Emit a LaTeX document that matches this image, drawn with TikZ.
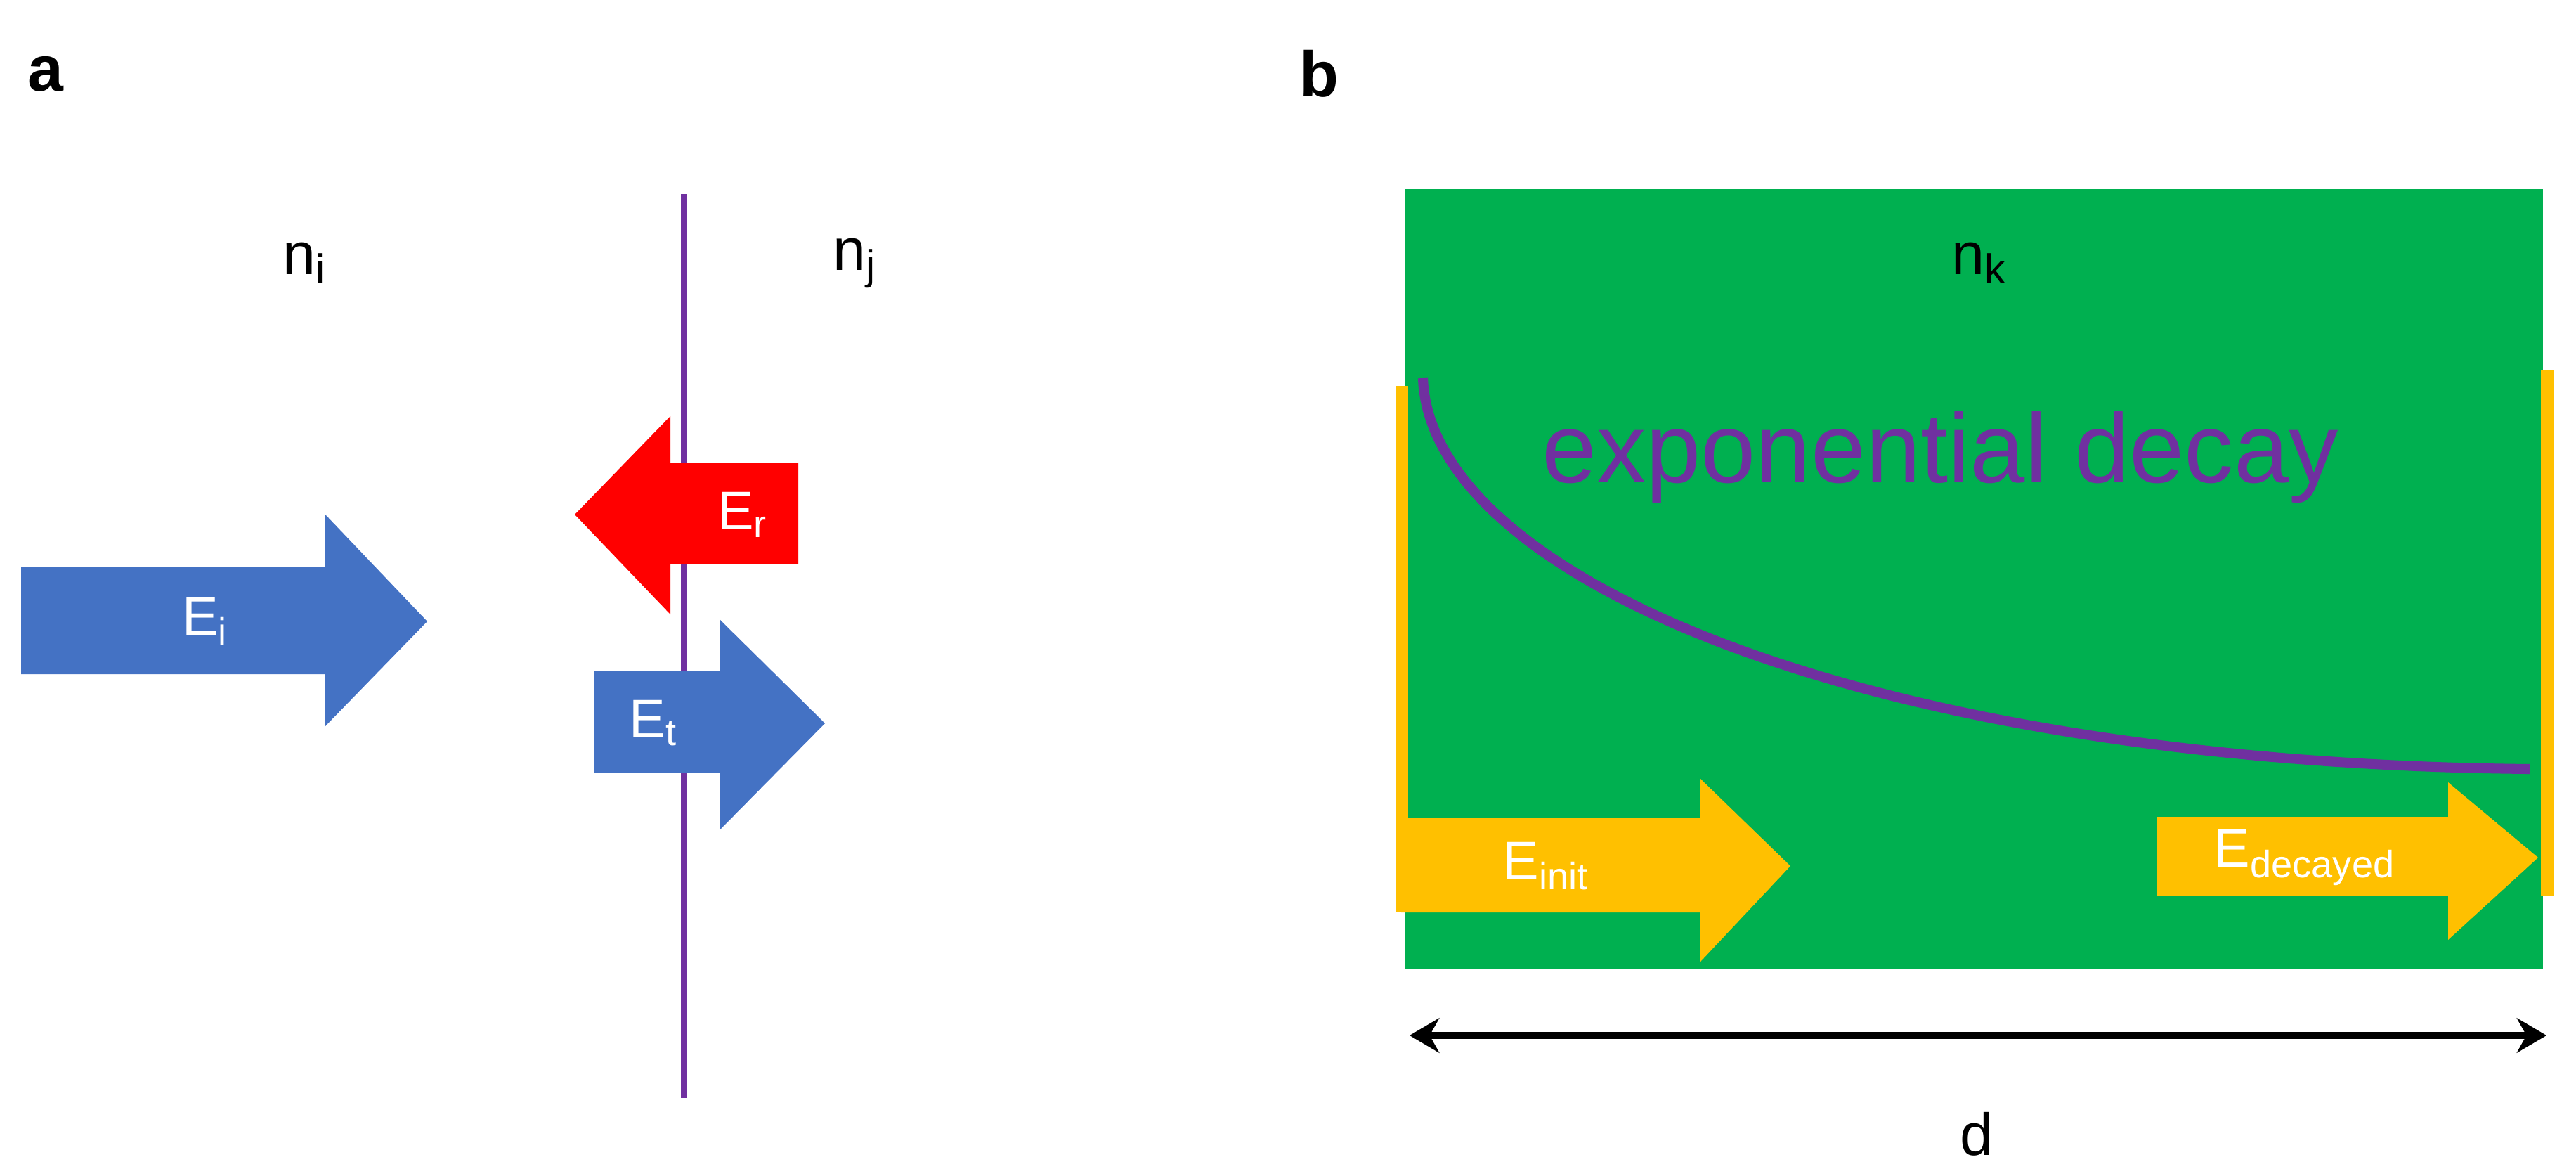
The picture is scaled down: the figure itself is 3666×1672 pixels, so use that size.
\documentclass[tikz,border=0pt]{standalone}
\usepackage{fontspec}
\setmainfont{Liberation Sans}
\usetikzlibrary{arrows.meta}
\definecolor{ablue}{HTML}{4472C4}
\definecolor{agreen}{HTML}{00B050}
\definecolor{ayellow}{HTML}{FFC000}
\definecolor{apurple}{HTML}{7030A0}
\begin{document}
\begin{tikzpicture}[x=0.01cm,y=-0.01cm,
  lab/.style={font=\fontsize{24}{28}\selectfont},
  elab/.style={text=white,font=\fontsize{22}{26}\selectfont},
  panel/.style={font=\bfseries\fontsize{26}{30}\selectfont}]
\useasboundingbox (0,0) rectangle (3666,1672);
% panel a
\node[panel] (pa) at (65,105) {a};
\node[lab] (ni) at (433,374) {n$_\mathrm{i}$};
\node[lab] (nj) at (1216,374) {n$_\mathrm{j}$};
\coordinate (lt) at (973,276);
\coordinate (lb) at (973,1562);
\draw[apurple,line width=2pt] (lt) -- (lb);
\fill[ablue] (30,807) -- (463,807) -- (463,732) -- (608,884) -- (463,1033) -- (463,959) -- (30,959) -- cycle;
\node[elab] (ei) at (292,884) {E$_\mathrm{i}$};
\fill[red] (1136,659) -- (954,659) -- (954,592) -- (818,732) -- (954,874) -- (954,802) -- (1136,802) -- cycle;
\node[elab] (er) at (1057,732) {E$_\mathrm{r}$};
\fill[ablue] (846,954) -- (1024,954) -- (1024,881) -- (1174,1029) -- (1024,1181) -- (1024,1099) -- (846,1099) -- cycle;
\node[elab] (et) at (930,1029) {E$_\mathrm{t}$};
% panel b
\node[panel] (pb) at (1877,105) {b};
\fill[agreen] (1999,269) rectangle (3619,1379);
\node[lab] (nk) at (2817,374) {n$_\mathrm{k}$};
\fill[ayellow] (1986,549) rectangle (2004,1298);
\fill[ayellow] (3616,526) rectangle (3634,1274);
\node[text=apurple,font=\fontsize{40}{46}\selectfont] (ed) at (2761,650) {exponential decay};
\coordinate (cs) at (2025,538);
\coordinate (ce) at (3600,1094);
\draw[apurple,line width=4pt] (cs) .. controls (2035,820) and (2650,1085) .. (ce);
\fill[ayellow] (1994,1164) -- (2420,1164) -- (2420,1108) -- (2548,1232) -- (2420,1368) -- (2420,1298) -- (1994,1298) -- cycle;
\node[elab] (einit) at (2200,1232) {E$_\mathrm{init}$};
\fill[ayellow] (3070,1162) -- (3484,1162) -- (3484,1113) -- (3612,1220) -- (3484,1337) -- (3484,1274) -- (3070,1274) -- cycle;
\node[elab] (edec) at (3280,1220) {E$_\mathrm{decayed}$};
\coordinate (dl) at (2006,1473);
\coordinate (dr) at (3624,1473);
\draw[line width=3pt,{Stealth[length=12pt,width=14pt]}-{Stealth[length=12pt,width=14pt]}] (dl) -- (dr);
\node[lab] (d) at (2813,1613) {d};
\end{tikzpicture}
\end{document}
